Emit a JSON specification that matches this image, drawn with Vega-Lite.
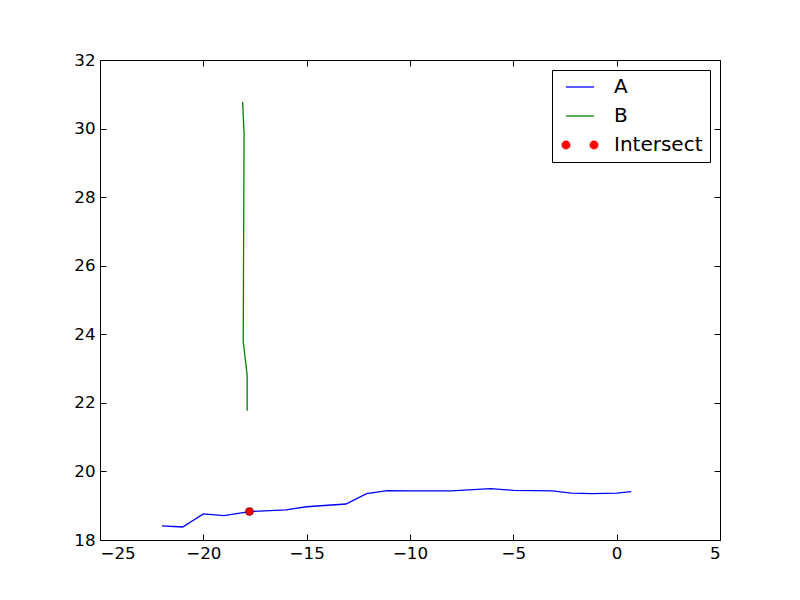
{
  "$schema": "https://vega.github.io/schema/vega-lite/v6.json",
  "width": 620,
  "height": 480,
  "autosize": "none",
  "padding": {"left": 100, "top": 60, "right": 80, "bottom": 60},
  "background": "white",
  "config": {
    "font": "DejaVu Sans",
    "view": {"stroke": "black", "strokeWidth": 1},
    "axis": {
      "grid": false,
      "domain": false,
      "tickColor": "black",
      "tickSize": -6,
      "tickWidth": 1,
      "labelColor": "black",
      "labelFont": "DejaVu Sans",
      "labelFontSize": 16.7,
      "labelPadding": 11,
      "title": null
    }
  },
  "datasets": {
    "lines": [
      {"series": "A", "i": 0, "x": -22.0, "y": 18.41},
      {"series": "A", "i": 1, "x": -21.0, "y": 18.38},
      {"series": "A", "i": 2, "x": -20.0, "y": 18.76},
      {"series": "A", "i": 3, "x": -19.0, "y": 18.71},
      {"series": "A", "i": 4, "x": -17.77, "y": 18.83},
      {"series": "A", "i": 5, "x": -16.0, "y": 18.88},
      {"series": "A", "i": 6, "x": -15.0, "y": 18.97},
      {"series": "A", "i": 7, "x": -13.1, "y": 19.05},
      {"series": "A", "i": 8, "x": -12.1, "y": 19.35},
      {"series": "A", "i": 9, "x": -11.1, "y": 19.44},
      {"series": "A", "i": 10, "x": -10.0, "y": 19.43},
      {"series": "A", "i": 11, "x": -8.0, "y": 19.43},
      {"series": "A", "i": 12, "x": -6.1, "y": 19.5},
      {"series": "A", "i": 13, "x": -5.0, "y": 19.45},
      {"series": "A", "i": 14, "x": -3.1, "y": 19.43},
      {"series": "A", "i": 15, "x": -2.2, "y": 19.37},
      {"series": "A", "i": 16, "x": -1.2, "y": 19.35},
      {"series": "A", "i": 17, "x": 0.0, "y": 19.37},
      {"series": "A", "i": 18, "x": 0.7, "y": 19.41},
      {"series": "B", "i": 0, "x": -18.1, "y": 30.78},
      {"series": "B", "i": 1, "x": -18.03, "y": 29.86},
      {"series": "B", "i": 2, "x": -18.07, "y": 23.78},
      {"series": "B", "i": 3, "x": -17.88, "y": 22.81},
      {"series": "B", "i": 4, "x": -17.88, "y": 21.77}
    ],
    "pts": [
      {"series": "Intersect", "x": -17.77, "y": 18.83}
    ]
  },
  "layer": [
    {
      "data": {"name": "lines"},
      "mark": {"type": "line", "strokeWidth": 1.3},
      "encoding": {
        "x": {"field": "x", "type": "quantitative", "scale": {"domain": [-25, 5], "nice": false, "zero": false},
              "axis": {"orient": "bottom", "values": [-25, -20, -15, -10, -5, 0, 5]}},
        "y": {"field": "y", "type": "quantitative", "scale": {"domain": [18, 32], "nice": false, "zero": false},
              "axis": {"orient": "left", "values": [18, 20, 22, 24, 26, 28, 30, 32]}},
        "order": {"field": "i", "type": "quantitative"},
        "color": {
          "field": "series", "type": "nominal",
          "scale": {"domain": ["A", "B", "Intersect"], "range": ["#0000ff", "#008000", "#ff0000"]},
          "legend": {
            "title": null,
            "orient": "top-right",
            "offset": 10,
            "strokeColor": "black",
            "fillColor": "white",
            "padding": 7,
            "symbolOffset": 11,
            "labelFontSize": 20,
            "labelFont": "DejaVu Sans",
            "labelColor": "black",
            "rowPadding": 9,
            "labelOffset": 24,
            "symbolType": "stroke",
            "symbolSize": 784,
            "symbolStrokeWidth": 1.3,
            "encode": {
              "symbols": {
                "update": {
                  "shape": {"signal": "datum.value === 'Intersect' ? 'M -1.3,0 A 0.3,0.3 0 1,0 -0.7,0 A 0.3,0.3 0 1,0 -1.3,0 Z M 0.7,0 A 0.3,0.3 0 1,0 1.3,0 A 0.3,0.3 0 1,0 0.7,0 Z' : 'stroke'"},
                  "size": {"value": 784},
                  "stroke": {"signal": "datum.value === 'A' ? '#0000ff' : datum.value === 'B' ? '#008000' : 'black'"},
                  "fill": {"signal": "datum.value === 'Intersect' ? '#ff0000' : 'transparent'"},
                  "strokeWidth": {"signal": "datum.value === 'Intersect' ? 0.5 : 1.3"},
                  "opacity": {"value": 1}
                }
              }
            }
          }
        }
      }
    },
    {
      "data": {"name": "pts"},
      "mark": {"type": "point", "filled": true, "size": 64, "stroke": "black", "strokeWidth": 0.5, "opacity": 1},
      "encoding": {
        "x": {"field": "x", "type": "quantitative", "axis": null},
        "y": {"field": "y", "type": "quantitative", "axis": null},
        "color": {"field": "series", "type": "nominal"}
      }
    },
    {
      "data": {"name": "pts"},
      "mark": {"type": "point", "opacity": 0},
      "encoding": {
        "x": {"field": "x", "type": "quantitative",
              "axis": {"orient": "top", "labels": false, "values": [-25, -20, -15, -10, -5, 0, 5]}},
        "y": {"field": "y", "type": "quantitative",
              "axis": {"orient": "right", "labels": false, "values": [18, 20, 22, 24, 26, 28, 30, 32]}}
      }
    }
  ],
  "resolve": {"axis": {"x": "independent", "y": "independent"}}
}
